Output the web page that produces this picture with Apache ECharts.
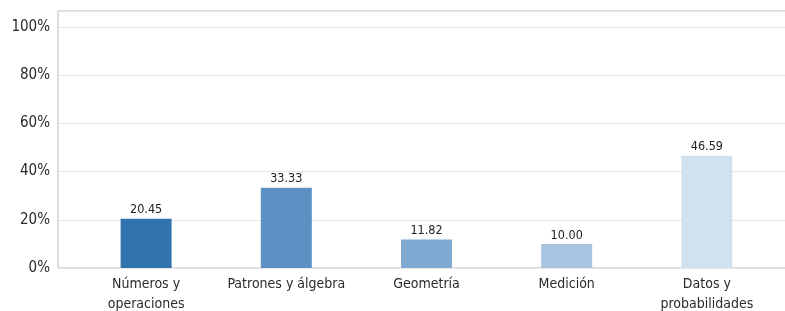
<!DOCTYPE html>
<html>
<head>
<meta charset="utf-8">
<script src="https://cdn.jsdelivr.net/npm/echarts@6/dist/echarts.min.js"></script>
<style>
  html, body { margin: 0; padding: 0; background: #fff; }
  #chart { width: 785px; height: 311px; }
</style>
</head>
<body>
<div id="chart"></div>
<script>
// data
const categories = ["Números y\noperaciones", "Patrones y álgebra", "Geometría", "Medición", "Datos y\nprobabilidades"];
const values = [20.45, 33.33, 11.82, 10.00, 46.59];
const yTicks = [0, 20, 40, 60, 80, 100];
const barColors = ["#3173ad", "#5d91c3", "#80aad2", "#a7c5e1", "#d0e1f0"];

const FONT = "'DejaVu Sans Condensed', 'DejaVu Sans', sans-serif";
const yMax = 106.6;

const chart = echarts.init(document.getElementById("chart"));
chart.setOption({
  animation: false,
  textStyle: { fontFamily: FONT },
  grid: [
    // frame, gridlines and y labels
    { left: 58, right: -3, top: 11, bottom: 43, outerBoundsMode: "none",
      show: true, borderColor: "#b8b8b8", borderWidth: 1, backgroundColor: "transparent" },
    // bars sit in a slightly narrower band
    { left: 76, right: 8, top: 11, bottom: 43, outerBoundsMode: "none" }
  ],
  xAxis: [
    {
      gridIndex: 0, type: "value", min: 0, max: 1,
      axisLine: { show: false }, axisTick: { show: false },
      axisLabel: { show: false }, splitLine: { show: false }
    },
    {
      gridIndex: 1, type: "category", data: categories,
      axisLine: { show: false }, axisTick: { show: false },
      axisLabel: { color: "#2a2a2a", fontSize: 14, fontFamily: FONT, margin: 6, lineHeight: 20, interval: 0 }
    }
  ],
  yAxis: [
    {
      gridIndex: 0, type: "value", min: 0, max: yMax, interval: 20,
      axisLine: { show: false }, axisTick: { show: false },
      axisLabel: {
        color: "#2a2a2a", fontSize: 15, fontFamily: FONT, margin: 8,
        formatter: v => (yTicks.indexOf(v) >= 0 ? v + "%" : "")
      },
      splitLine: { show: true, lineStyle: { color: "#e6e6e6", width: 1 } }
    },
    {
      gridIndex: 1, type: "value", min: 0, max: yMax, show: false,
      splitLine: { show: false }
    }
  ],
  series: [{
    type: "bar",
    xAxisIndex: 1,
    yAxisIndex: 1,
    barWidth: 51,
    data: values.map((v, i) => ({ value: v, itemStyle: { color: barColors[i] } })),
    label: {
      show: true, position: "top", distance: 2,
      color: "#222", fontSize: 12.5, fontFamily: FONT,
      formatter: p => p.value.toFixed(2)
    }
  }]
});
</script>
</body>
</html>
